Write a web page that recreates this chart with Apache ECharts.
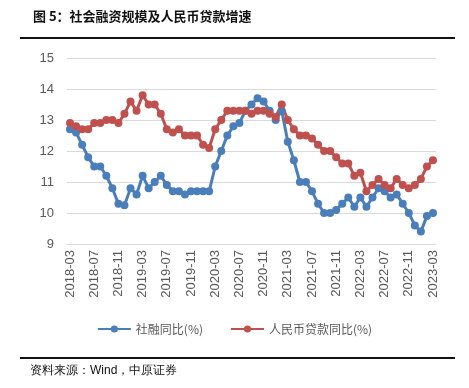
<!DOCTYPE html>
<html><head><meta charset="utf-8">
<script src="https://cdn.jsdelivr.net/npm/echarts@6/dist/echarts.min.js"></script>
<style>html,body{margin:0;padding:0;background:#fff}#c{width:469px;height:388px}</style>
</head><body><div id="c"></div>
<script>
const months = [];
for (let y = 2018; y <= 2023; y++) for (let m = 1; m <= 12; m++) {
  if ((y === 2018 && m < 3) || (y === 2023 && m > 3)) continue;
  months.push(y + '-' + String(m).padStart(2, '0'));
}
const tsfYoY = [12.7,12.6,12.2,11.8,11.5,11.5,11.2,10.8,10.3,10.25,
  10.8,10.6,11.2,10.8,11.0,11.2,10.9,10.7,10.7,10.6,10.7,10.7,
  10.7,10.7,11.5,12.0,12.5,12.8,12.9,13.3,13.5,13.7,13.6,13.3,
  13.0,13.3,12.3,11.7,11.0,11.0,10.7,10.3,10.0,10.0,10.1,10.3,
  10.5,10.2,10.5,10.2,10.5,10.8,10.7,10.5,10.6,10.3,10.0,9.6,
  9.4,9.9,10.0];
const loanYoY = [12.9,12.8,12.7,12.7,12.9,12.9,13.0,13.0,12.9,13.2,
  13.6,13.3,13.8,13.5,13.5,13.2,12.7,12.6,12.7,12.5,12.5,12.5,
  12.2,12.1,12.7,13.0,13.3,13.3,13.3,13.3,13.2,13.3,13.3,13.2,
  13.1,13.5,13.0,12.7,12.5,12.5,12.4,12.2,12.0,12.0,11.8,11.6,
  11.6,11.2,11.3,10.7,10.9,11.1,10.9,10.8,11.1,10.9,10.8,10.9,
  11.1,11.5,11.7];
const seriesNames = ['社融同比(%)', '人民币贷款同比(%)'];
const titleText = '图 5：社会融资规模及人民币贷款增速';
const sourceText = '资料来源：Wind，中原证券';

const chart = echarts.init(document.getElementById('c'), null, {renderer: 'canvas'});
const cjk = '"Noto Sans CJK SC", "Liberation Sans", sans-serif';
chart.setOption({
  animation: false,
  backgroundColor: '#fff',
  textStyle: {fontFamily: cjk},
  title: {
    text: titleText, left: 28, top: 5,
    textStyle: {fontSize: 13, fontWeight: 'bold', color: '#111', fontFamily: cjk}
  },
  graphic: [
    {type: 'rect', shape: {x: 20, y: 37, width: 435, height: 2}, style: {fill: '#111'}},
    {type: 'rect', shape: {x: 20, y: 357, width: 435, height: 2}, style: {fill: '#111'}},
    {type: 'text', left: 30, top: 365, style: {text: sourceText, fontSize: 12, fill: '#111', font: '12px ' + cjk}}
  ],
  legend: {
    top: 318, left: 'center', itemGap: 27, itemWidth: 33, itemHeight: 9,
    textStyle: {fontSize: 12, color: '#595959', fontFamily: cjk},
    data: seriesNames
  },
  grid: {left: 67, right: 33, top: 58, bottom: 144},
  xAxis: {
    type: 'category', data: months, boundaryGap: true,
    axisLine: {lineStyle: {color: '#d9d9d9', width: 1}},
    axisTick: {interval: 3, length: 5, lineStyle: {color: '#d9d9d9'}},
    axisLabel: {interval: 3, rotate: 90, fontSize: 13, color: '#595959', margin: 6, fontFamily: '"Liberation Sans", sans-serif'}
  },
  yAxis: {
    type: 'value', min: 9, max: 15, interval: 1,
    axisLine: {show: false}, axisTick: {show: false},
    axisLabel: {fontSize: 13, color: '#595959', margin: 13, fontFamily: '"Liberation Sans", sans-serif'},
    splitLine: {lineStyle: {color: '#d9d9d9', width: 1}}
  },
  series: [
    {name: seriesNames[0], type: 'line', data: tsfYoY, symbol: 'circle', symbolSize: 8, showAllSymbol: true,
     itemStyle: {color: '#4A7EBB'}, lineStyle: {color: '#4A7EBB', width: 3}},
    {name: seriesNames[1], type: 'line', data: loanYoY, symbol: 'circle', symbolSize: 8, showAllSymbol: true,
     itemStyle: {color: '#C0504D'}, lineStyle: {color: '#C0504D', width: 3}}
  ]
});
</script></body></html>
